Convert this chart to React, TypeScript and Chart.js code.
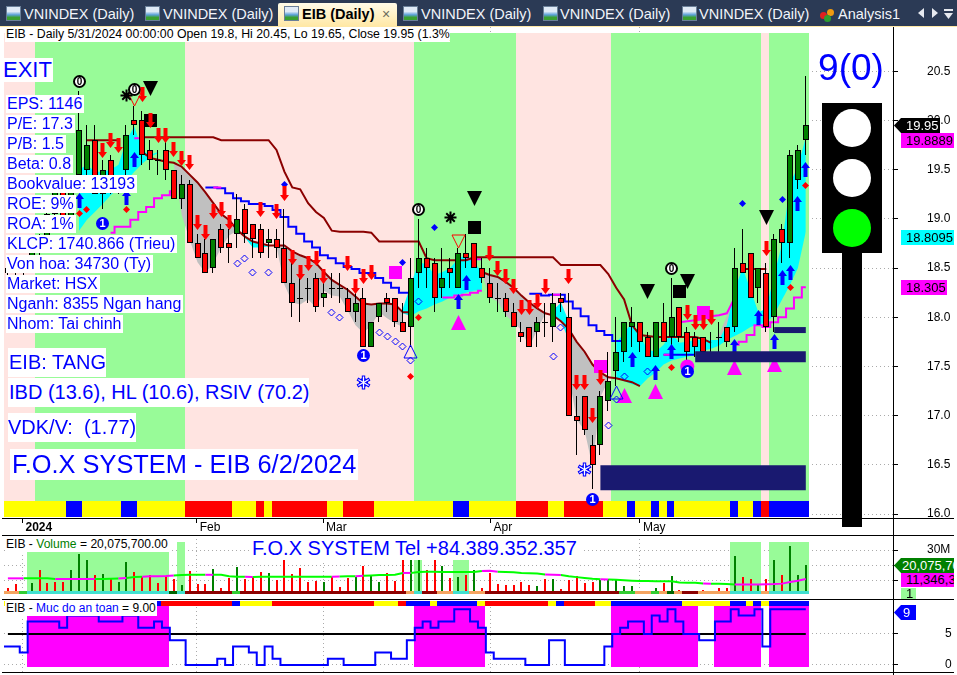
import React, { useEffect, useRef } from "react";
import { Chart, registerables } from "chart.js";

Chart.register(...registerables);

const N = 102;
const idx = Array.from({ length: N }, (_, i) => i);

const openP = [
  18.45,18.5,18.45,18.5,18.7,18.7,19.05,19.4,19.0,19.45,
  19.5,19.8,19.25,19.6,19.35,19.5,20.0,20.0,19.7,19.6,
  19.7,19.5,19.2,19.35,18.75,18.65,18.5,18.9,18.75,18.85,
  19.1,18.95,18.9,18.75,18.8,18.7,18.35,18.2,18.3,18.4,
  18.2,18.3,18.3,18.2,18.05,18.2,17.7,18.0,18.2,18.2,
  17.95,17.9,18.45,18.6,18.55,18.3,18.5,18.3,18.65,18.75,
  18.5,18.35,18.2,18.2,18.05,17.85,17.9,17.85,17.95,17.9,
  18.2,18.0,17.0,17.2,16.7,16.7,17.15,17.45,17.65,17.9,
  17.95,17.8,17.6,17.95,17.8,18.1,17.85,17.8,17.8,17.65,
  17.8,17.9,17.9,18.55,18.65,18.3,18.45,18.0,18.9,18.75,
  19.4,19.8,
];
const closeP = [
  18.5,18.45,18.5,18.7,18.65,19.05,19.4,19.0,19.35,19.9,
  19.75,19.25,19.5,19.3,19.3,19.85,19.95,19.65,19.6,19.6,
  19.5,19.2,19.35,18.75,18.6,18.45,18.8,18.7,18.7,19.0,
  18.85,18.8,18.65,18.8,18.7,18.35,18.15,18.2,18.3,18.1,
  18.25,18.3,18.3,18.05,18.15,17.7,17.95,18.15,18.15,17.95,
  17.85,18.4,18.6,18.5,18.2,18.4,18.45,18.65,18.6,18.5,
  18.4,18.2,18.2,18.05,17.9,17.8,17.7,17.95,17.95,18.15,
  18.15,17.0,16.95,16.85,16.5,17.2,17.35,17.65,17.95,17.95,
  17.75,17.6,17.95,17.75,18.0,17.8,17.65,17.7,17.65,17.65,
  17.8,17.75,18.5,18.45,18.2,18.5,17.9,18.8,18.75,19.65,
  19.7,19.95,
];
const highP = [
  18.6,18.6,18.55,18.75,18.85,19.15,19.45,19.45,19.4,20.3,
  19.95,19.95,19.6,19.65,19.4,19.95,20.15,20.1,19.8,19.7,
  19.8,19.5,19.45,19.4,18.85,18.8,18.8,18.95,18.9,19.25,
  19.15,18.95,18.95,18.9,18.9,19.1,18.6,18.4,18.4,18.45,
  18.4,18.45,18.45,18.3,18.25,18.3,17.95,18.15,18.25,18.2,
  18.15,18.6,19.0,18.7,18.6,18.7,18.6,18.7,18.85,18.75,
  18.6,18.5,18.35,18.25,18.15,17.95,17.9,18.0,18.15,18.25,
  18.25,18.25,17.2,17.2,16.8,17.25,17.65,18.0,17.95,18.1,
  17.95,17.85,17.95,18.15,18.4,18.1,17.9,17.85,17.8,17.85,
  17.95,17.9,18.7,18.9,18.65,18.5,18.55,18.85,18.95,19.7,
  19.75,20.45,
];
const lowP = [
  18.35,18.4,18.35,18.45,18.6,18.65,19.0,18.9,18.95,19.35,
  19.45,19.25,19.1,19.25,19.25,19.45,19.85,19.55,19.5,19.45,
  19.4,19.2,19.1,18.75,18.6,18.45,18.45,18.65,18.55,18.7,
  18.75,18.6,18.6,18.6,18.6,18.35,18.0,17.95,18.15,18.05,
  18.1,18.2,18.15,18.05,17.95,17.7,17.7,17.95,18.05,17.9,
  17.85,17.7,18.3,18.3,18.05,18.2,18.3,18.3,18.5,18.5,
  18.35,18.15,18.05,18.0,17.9,17.75,17.7,17.7,17.8,17.75,
  18.05,17.0,16.6,16.8,16.25,16.6,17.05,17.3,17.55,17.7,
  17.65,17.6,17.6,17.75,17.7,17.75,17.55,17.6,17.6,17.6,
  17.65,17.7,17.85,18.45,18.2,18.15,17.85,17.85,18.55,18.6,
  19.3,19.65,
];

const volumeM = [
  5.3,7.8,3.5,8.5,17.1,8.5,9.1,9.1,17.1,27.4,
  23.5,13.9,14.5,11.1,9.6,22,15.6,12.4,13.7,8.5,
  13.4,11.1,7.4,16.5,7.8,7.8,17.5,5.3,11.7,18.8,
  11.1,12.4,15.8,14.9,10.6,23.5,14.5,18.4,9.1,10.2,
  9.1,12.4,5.9,12.2,12.4,19.7,13.9,9.1,14.9,10,
  23.5,23.5,23.5,17.1,23.5,19.7,11.7,12.4,13.7,17.1,
  5.3,15.4,8,7.6,7.4,9.4,7.4,6.8,11.3,11.3,
  4.8,10.6,13.2,8.7,9.4,10.6,11.5,10.6,7,6.8,
  2,3.5,5.3,8.7,13.2,4.2,3,3,4.2,3,
  5.4,5.4,26.1,12.4,11.3,7.8,11.3,23.5,13.9,32.6,
  13.9,20.08,
];
const volumeDir = "RRGGRRRRGGGRGRGGRRRRRRGRRRGRRGRRRGRRRRRRGRRRGRGGRRRGGRRGRGRGRRRRRRRGRGRRRRRGGGGGGGGRGRRRRRRRGRRGRGRGGG";
const volumeAvg = [
  11.7,11.7,11.7,11.7,11.7,11.7,11.3,11.3,11.3,11.3,
  11.3,11.3,11.3,11.5,11.6,11.9,12.6,12.8,13,13,
  13.2,13.6,13.9,14,14,14,14,14,13,12.8,
  12.7,12.6,12.7,12.8,12.8,12.8,12.8,12.8,12.8,12.8,
  12.8,12.8,12.9,13,13,13.4,13.6,13.8,13.9,14,
  15.2,15.2,15.8,15.9,15.9,15.8,15.8,15.8,15.8,15.8,
  16.5,16.6,16,15.8,15.6,15.2,15,14.8,14.2,14,
  13.8,13,12.5,12,11.5,11.2,11,10.8,10.5,10.2,
  10,10,9.8,9.8,9.8,9,8.8,8.8,8.4,8.2,
  8.2,8,7.8,7.8,7.8,7.8,7.9,8,8.3,9.4,
  10.2,11.35,
];
const volumeAvgPink = [0,1,6,7,8,9,10,14,17,18,19,20,25,30,41,44,50,60,61,68,69,75,88,92,93,94,95,96,97,98,99,100,101];

const safety = [
  3,3,2,7,7,7,7,6,8,8,
  8,8,7,7,7,8,8,6,6,7,
  6,4,4,0,0,0,0,1,0,3,
  3,2,0,3,1,0,0,0,0,0,
  0,1,1,0,0,0,0,2,2,1,
  1,4,6,7,6,7,7,9,9,7,
  6,2,1,1,1,1,0,0,0,4,
  4,0,0,0,0,0,3,5,6,7,
  7,5,8,7,9,7,5,5,4,4,
  7,7,9,8,8,9,3,9,9,9,
  9,9,
];
const safetyMid = idx.map(() => 5);

type Run = [string, number];
const trendRuns: Run[] = [["P",4],["G",19],["P",29],["G",13],["P",12],["G",19],["P",1],["G",5]];
const priceStripRuns: Run[] = [["Y",8],["B",2],["Y",5],["B",2],["Y",6],["R",6],["Y",3],["R",1],["Y",1],["R",7],["Y",2],["R",4],["Y",10],["B",2],["Y",6],["R",4],["Y",2],["R",5],["Y",3],["B",1],["Y",2],["B",1],["Y",1],["B",1],["Y",7],["B",1],["Y",2],["B",1],["R",1],["B",5]];
const volBandRuns: Run[] = [["-",3],["L",18],["-",1],["L",1],["-",29],["L",1],["-",4],["L",2],["-",33],["L",4],["-",1],["L",5]];
const volStripRuns: Run[] = [["O",2],["A",1],["T",18],["D",1],["T",1],["M",6],["A",1],["M",21],["O",1],["T",1],["M",2],["O",2],["T",2],["O",2],["M",17],["A",2],["O",2],["A",1],["O",1],["D",1],["O",1],["M",2],["O",4],["T",4],["O",1],["T",5]];
const safetyBandRuns: Run[] = [["-",3],["K",18],["-",31],["K",9],["-",16],["K",11],["-",2],["K",6],["-",1],["K",5]];
const safetyStripRuns: Run[] = [["Y",19],["B",1],["R",9],["B",1],["Y",4],["R",13],["Y",3],["R",1],["B",3],["Y",1],["B",5],["Y",1],["R",8],["Y",1],["B",1],["R",4],["Y",2],["B",9],["Y",6],["B",2],["Y",1],["B",1],["Y",1],["B",5]];

type Span = [number, number[]];
const rep = (v: number, n: number) => Array(n).fill(v);
const slowLine: Span[] = [[10,rep(19.8,5)],[17,rep(19.83,10)],[27,rep(19.8,7)],[34,[19.7,19.48,19.32,19.3,19.16,19.07,19.01,18.88,18.87,18.87,18.87,18.87,18.86]],[47,rep(18.77,6)],[53,[18.6,18.58,18.58,18.58,18.58,18.58]],[59,rep(18.61,11)],[70,rep(18.53,6)],[76,[18.44,18.3,18.18,17.92,17.82,17.81,17.8,17.8,17.8,17.8,17.8,17.8,17.78,17.74]],[93,rep(18.49,4)]];
const fastLine: Span[] = [[17,[19.68,19.62,19.6,19.58,19.57,19.53,19.45,19.37,19.27,19.16,19.05,18.99,18.89,18.82,18.77,18.75,18.73,18.73,18.73,18.67,18.63,18.6,18.55,18.46,18.38,18.33,18.28,18.21,18.14,18.13,18.14,18.14,18.13,18.05,18.05]],[60,[18.46,18.43,18.41,18.36,18.3,18.22,18.15,18.09,18.04,18.02,17.96,17.88,17.75,17.65,17.52,17.44,17.39,17.38,17.36,17.34,17.3]]];
const blueStop: Span[] = [[25,[19.32,19.32,19.31,19.26,19.21,19.18,19.15,19.15,19.13,19.09,19.02,18.92,18.85,18.77,18.71,18.63,18.6,18.55,18.51,18.49,18.45,18.45,18.4,18.35,18.3,18.25,18.25]],[66,[18.24,18.24,18.22,18.23,18.23,18.16,18.09,18.01,17.92,17.86,17.82,17.76,17.76]],[83,rep(17.62,5)]];
const pinkLow: Span[] = [[13,[18.86,18.92,18.92,18.99,19.07,19.12,19.21,19.24,19.28]],[55,[18.2,18.2,18.22,18.23,18.25,18.27]],[83,[17.62,17.62]],[92,[17.72,17.75,17.82,17.92,17.9,17.95,18,18.09,18.2,18.305]]];
const pinkHigh: Span[] = [[16,[19.82,19.82]],[26,[19.32,19.32]],[58,[18.59,18.59,18.59]],[69,[18.23,18.23]],[85,[17.95,17.96,17.97,17.98,18.01,18.02,18.04,18.2]]];
const cyanUpper: Span[] = [[9,[19.5,19.55,19.48,19.48,19.5,19.55,19.8,19.94,19.7,19.65,19.68]],[30,[18.82,18.77,18.75,18.73]],[50,[18.09,18.33,18.56,18.54,18.43,18.46,18.5,18.6,18.63,18.56,18.46]],[69,[18.07,18.15,17.96]],[77,[17.74,17.84,17.95,17.81,17.67,17.65,17.72,17.84,17.74,17.75,17.77,17.77,17.77,17.77,17.92,18.28,18.5,18.28,18.05,18.09,18.43,18.75,19.36,19.53,19.83]]];
const cyanLower: Span[] = [[9,[18.88,18.99,19.07,19.15,19.24,19.31,19.39,19.48,19.56,19.63,19.67]],[30,[18.81,18.71,18.71,18.72]],[50,[18.04,18.01,18.06,18.09,18.13,18.16,18.2,18.23,18.25,18.27,18.28]],[69,[18.02,17.96,17.77]],[77,[17.38,17.35,17.32,17.3,17.38,17.44,17.52,17.56,17.58,17.6,17.62,17.66,17.68,17.71,17.77,17.81,17.85,17.9,17.93,17.94,18.03,18.18,18.33,18.5,18.87]]];
const grayUpper: Span[] = [[21,[19.57,19.53,19.45,19.37,19.27,19.16,19.05,18.99,18.89]],[34,[18.73,18.73,18.67,18.63,18.6,18.55,18.46,18.38,18.33,18.28,18.21,18.14,18.13,18.14,18.14,18.13,18.05]],[60,[18.46,18.43,18.41,18.36,18.3,18.22,18.15,18.09,18.04]],[71,[17.88,17.75,17.65,17.52,17.44,17.39]],[90,[17.82,18.01,18.18]]];
const grayLower: Span[] = [[21,[19.55,19.04,18.79,18.56,18.45,18.55,18.71,18.83,18.88]],[34,[18.72,18.33,18.15,18.13,18.18,18.1,18.27,18.22,18.21,18.07,17.92,17.84,17.92,18.05,17.99,17.94,17.9]],[60,[18.44,18.2,18.16,18.02,17.95,17.87,17.7,17.87,18.03]],[71,[17.41,16.96,16.85,16.48,17.19,17.36]],[90,[17.77,17.92,18.17]]];
const navyZones = [[75,101,16.37],[87,101,17.6],[97,101,17.87]];

type Mark = [number, number];
const redArrows: Mark[] = [[12,19.69],[13,19.8],[14,19.75],[17,20.26],[18,20],[19,19.85],[20,19.85],[21,19.7],[22,19.61],[23,19.57],[24,18.96],[25,18.86],[26,19.07],[27,19.1],[28,18.96],[32,19.1],[34,19.07],[35,19.26],[36,18.61],[37,18.46],[38,18.55],[39,18.6],[40,18.41],[43,18.55],[44,18.31],[45,18.41],[46,18.46],[61,18.65],[62,18.5],[63,18.41],[64,18.31],[65,18.1],[66,18.1],[67,18.16],[68,18.31],[71,18.41],[72,17.34],[73,17.34],[74,17],[75,17.39],[86,18.05],[87,17.95],[88,17.95],[89,18],[96,18.7]];
const blueArrows: Mark[] = [[9,19.19],[15,19.22],[16,19.6],[57,18.16],[58,18.35],[79,17.57],[82,17.44],[84,17.65],[92,17.7],[95,18],[97,17.75],[98,18.4],[99,18.45],[100,19.16],[101,19.5]];
const blueDots: Mark[] = [[35,19.35],[50,18.56],[54,18.91],[93,19.16],[98,19.2]];
const redDots: Mark[] = [[9,19.05],[10,19.1],[15,19.1],[51,17.4],[52,18],[84,17.49],[99,18.3],[101,19.34]];
const hollowDots: Mark[] = [[29,18.55],[30,18.6],[31,18.45],[33,18.45],[41,18.05],[42,18],[47,17.85],[48,17.8],[49,17.75],[50,17.7],[51,17.56],[52,18.16],[69,17.6],[70,17.9],[76,16.9],[77,17.16],[78,17.4],[81,17.45]];
const pinkTriangles: Mark[] = [[57,17.95],[78,17.2],[82,17.25],[92,17.49],[97,17.52]];
const blueTriangles: Mark[] = [[51,17.65],[77,17.24]];
const redOpenTriangles: Mark[] = [[16,20.21],[57,18.77]];
const blackTriangles: Mark[] = [[18,20.32],[59,19.21],[81,18.26],[86,18.36],[96,19.01]];
const blackSquares: Mark[] = [[18,20],[59,18.91],[85,18.26]];
const pinkSquares: Mark[] = [[49,18.46],[75,17.5],[88,18.05]];
const asterisks: Mark[] = [[15,20.25],[56,19.01]];
const zeroBadges: Mark[] = [[9,20.4],[16,20.31],[52,19.1],[84,18.5]];
const oneBadges: Mark[] = [[12,18.95],[45,17.61],[74,16.15],[86,17.45]];
const snowflakes: Mark[] = [[45,17.34],[73,16.45]];
const pinkDiscs: Mark[] = [[86,17.5]];

const priceTicks = [16,16.5,17,17.5,18,18.5,19,19.5,20,20.5];
const volumeTicks = [10,20,30];
const safetyTicks = [0,5];
const monthTickPos = [1.85,23.9,39.9,61.1,80];
const monthLabels = ["2024","Feb","Mar","Apr","May"];

const infoLines = ["EPS: 1146","P/E: 17.3","P/B: 1.5","Beta: 0.8","Bookvalue: 13193","ROE: 9%","ROA: 1%","KLCP: 1740.866 (Trieu)","Von hoa: 34730 (Ty)","Market: HSX","Nganh: 8355 Ngan hang","Nhom: Tai chinh"];
const tabTitles = ["VNINDEX (Daily)","VNINDEX (Daily)","EIB (Daily)","VNINDEX (Daily)","VNINDEX (Daily)","VNINDEX (Daily)","Analysis1"];

const STRIP: Record<string,string> = { Y:"#ffff00", B:"#0000ff", R:"#ff0000", P:"#ffe4e1", G:"#98fb98", L:"#98fb98", O:"#f4a460", A:"#32cd32", T:"#40e0d0", D:"#006400", M:"#8b0000", K:"#ff00ff" };
const expand = (runs: Run[]) => runs.flatMap(([c,n]) => Array(n).fill(c) as string[]);
const fromSpans = (spans: Span[]) => {
  const out: {x:number;y:number|null}[] = idx.map((x) => ({ x, y: null }));
  spans.forEach(([s, vals]) => vals.forEach((v, k) => { out[s + k].y = v; }));
  return out;
};
const FONT = '"Liberation Sans", Arial, sans-serif';
const X_MIN = (4 - 7.9) / 7.9;
const X_MAX = (893 - 7.9) / 7.9;

function sprite(w: number, h: number, draw: (g: CanvasRenderingContext2D) => void) {
  const c = document.createElement("canvas");
  c.width = w; c.height = h;
  draw(c.getContext("2d")!);
  return c;
}
function poly(g: CanvasRenderingContext2D, pts: number[][]) {
  g.beginPath();
  pts.forEach(([x, y], i) => (i ? g.lineTo(x, y) : g.moveTo(x, y)));
  g.closePath();
}
const arrow = (color: string, up: boolean) => sprite(9, 15, (g) => {
  const p = [[2.5,0],[6.5,0],[6.5,9],[9,9],[4.5,15],[0,9],[2.5,9]].map(([x,y]) => [x, up ? 15 - y : y]);
  poly(g, p); g.fillStyle = color; g.fill();
});
const triangleSprite = (size: number, up: boolean, fill: string | null, stroke: string | null) => sprite(size, size, (g) => {
  const p = up ? [[size/2,1],[size-1,size-1],[1,size-1]] : [[1,1],[size-1,1],[size/2,size-1]];
  poly(g, p);
  if (fill) { g.fillStyle = fill; g.fill(); }
  if (stroke) { g.strokeStyle = stroke; g.lineWidth = 1; g.stroke(); }
});
const squareSprite = (size: number, color: string) => sprite(size, size, (g) => { g.fillStyle = color; g.fillRect(0,0,size,size); });
const badge = (text: string, ring: string, fill: string, ink: string, size: number) => sprite(13, 13, (g) => {
  g.beginPath(); g.arc(6.5,6.5,5.5,0,Math.PI*2);
  g.fillStyle = fill; g.fill(); g.lineWidth = 2; g.strokeStyle = ring; g.stroke();
  g.fillStyle = ink; g.font = `bold ${size}px ${FONT}`; g.textAlign = "center"; g.textBaseline = "middle";
  g.fillText(text, 6.5, 7);
});
const snowSprite = () => sprite(15, 15, (g) => {
  const arms = (color: string, width: number, r: number) => {
    g.strokeStyle = color; g.lineWidth = width;
    for (let a = 0; a < 3; a++) {
      const t = (a * Math.PI) / 3 + Math.PI / 2;
      g.beginPath(); g.moveTo(7.5 - Math.cos(t)*r, 7.5 - Math.sin(t)*r); g.lineTo(7.5 + Math.cos(t)*r, 7.5 + Math.sin(t)*r); g.stroke();
    }
  };
  arms("#0000ff", 3.4, 7);
  g.fillStyle = "#0000ff"; g.beginPath(); g.arc(7.5,7.5,4.5,0,Math.PI*2); g.fill();
  arms("#ffffff", 1.3, 6);
});

const snapPlugin = {
  id: "snap",
  afterDatasetsUpdate(chart: any) {
    chart.data.datasets.forEach((ds: any, di: number) => {
      const meta = chart.getDatasetMeta(di);
      meta.data.forEach((el: any) => {
        if (ds.snap === "point") {
          el.x = Math.floor(el.x) + 0.5; el.y = Math.floor(el.y) + 0.5;
        } else if (ds.snap === "band") {
          const l = Math.round(el.x - 5), r = Math.round(el.x + 3);
          el.x = (l + r) / 2; el.width = r - l;
          el.y = Math.round(el.y); el.base = Math.round(el.base);
        } else if (ds.snap === "body" || ds.snap === "wick" || ds.snap === "vol") {
          const X = Math.round(el.x);
          if (ds.snap === "body") { el.x = X; el.width = 6; }
          if (ds.snap === "wick") { el.x = X - 0.5; el.width = 1; }
          if (ds.snap === "vol") { el.x = X; el.width = 2; }
          let top = Math.round(Math.min(el.y, el.base));
          let bot = Math.round(Math.max(el.y, el.base));
          if (bot - top < 1) bot = top + 1;
          el.y = top; el.base = bot; el.height = bot - top;
        }
      });
    });
  },
};

const barDefaults = { type: "bar" as const, inflateAmount: 0, borderSkipped: false, grouped: false, barThickness: 8 };
const colorBars = (runs: Run[], lo: number, hi: number, order: number) => {
  const codes = expand(runs);
  const keep = idx.filter((i) => codes[i] !== "-");
  return {
    ...barDefaults, order, snap: "band",
    data: keep.map((i) => ({ x: i, y: [lo, hi] })),
    backgroundColor: keep.map((i) => STRIP[codes[i]]),
    borderWidth: 0,
  };
};
const lineSet = (data: any, color: string, order: number, extra: any = {}) => ({
  type: "line" as const, data, borderColor: color, backgroundColor: color, borderWidth: 2,
  pointRadius: 0, tension: 0, spanGaps: false, fill: false, order, ...extra,
});
const fillPair = (upper: Span[], lower: Span[], color: string, order: number) => [
  lineSet(fromSpans(upper), "transparent", order, { borderWidth: 0, fill: { target: "+1" }, backgroundColor: color }),
  lineSet(fromSpans(lower), "transparent", order, { borderWidth: 0 }),
];
const marks = (pairs: Mark[], style: any, order: number, extra: any = {}) => ({
  type: "scatter" as const, data: pairs.map(([x, y]) => ({ x, y })), pointStyle: style,
  pointRadius: 4, pointHoverRadius: 4, pointBorderWidth: 0, pointBackgroundColor: "transparent",
  snap: "point", order, ...extra,
});

const zeroPadding = (s: any) => { s.paddingTop = 0; s.paddingBottom = 0; s.paddingLeft = 0; s.paddingRight = 0; };
const xAxis = (visible: boolean) => ({
  type: "linear" as const, min: X_MIN, max: X_MAX, offset: false,
  afterBuildTicks: (s: any) => { s.ticks = monthTickPos.map((value) => ({ value })); },
  afterFit: (s: any) => { zeroPadding(s); s.height = visible ? 17 : 0; },
  grid: { color: "#aaaaaa", offset: false, drawTicks: visible, tickLength: 5, tickColor: "#000000", tickBorderDash: [] },
  border: { display: false, dash: [1, 3] },
  ticks: visible ? {
    autoSkip: false, maxRotation: 0, minRotation: 0, align: "start", labelOffset: 3, padding: -3, color: "#000000",
    font: (c: any) => ({ family: FONT, size: 12, weight: c.index === 0 ? "bold" : "normal" }),
    callback: (_v: any, i: number) => monthLabels[i],
  } : { display: false },
});
const yAxis = (min: number, max: number, tickList: number[], fmt: (v: number) => string, pad: number) => ({
  type: "linear" as const, position: "right" as const, min, max, offset: false,
  afterBuildTicks: (s: any) => { s.ticks = tickList.map((value) => ({ value })); },
  afterFit: (s: any) => { zeroPadding(s); s.width = 64; },
  grid: { color: "#aaaaaa", tickLength: 5, tickColor: "#000000", tickBorderDash: [] },
  border: { display: true, color: "#000000", dash: [1, 3] },
  ticks: { color: "#000000", padding: pad, font: { family: FONT, size: 12 }, callback: (v: number) => fmt(v) },
});
const baseOptions = (padding: any, scales: any) => ({
  responsive: false, animation: false as const, devicePixelRatio: 1,
  layout: { padding, autoPadding: false },
  plugins: { legend: { display: false }, tooltip: { enabled: false } },
  events: [] as any[],
  scales,
});

function priceChart(canvas: HTMLCanvasElement) {
  const trend = expand(trendRuns);
  const strip = expand(priceStripRuns);
  const candleColor = idx.map((i) => (closeP[i] > openP[i] ? "#008000" : closeP[i] < openP[i] ? "#ff0000" : "#000000"));
  const datasets: any[] = [
    { ...barDefaults, order: 100, snap: "band", data: idx.map((i) => ({ x: i, y: [16.13, 20.889] })), backgroundColor: trend.map((c) => STRIP[c]), borderWidth: 0 },
    { ...barDefaults, order: 99, snap: "band", data: idx.map((i) => ({ x: i, y: [15.97, 16.13] })), backgroundColor: strip.map((c) => STRIP[c]), borderWidth: 0 },
    ...fillPair(grayUpper, grayLower, "#c0c0c0", 92),
    ...fillPair(cyanUpper, cyanLower, "#00ffff", 91),
    lineSet(fromSpans(blueStop), "#0000ff", 85, { stepped: "middle" }),
    lineSet(fromSpans(pinkLow), "#ff00ff", 84, { stepped: "middle" }),
    lineSet(fromSpans(pinkHigh), "#ff00ff", 84),
    lineSet(fromSpans(slowLine), "#8b0000", 83),
    lineSet(fromSpans(fastLine), "#8b0000", 83),
    { ...barDefaults, order: 70, snap: "wick", barThickness: 1, data: idx.map((i) => ({ x: i, y: [lowP[i], highP[i]] })), backgroundColor: "#000000", borderWidth: 0 },
    { ...barDefaults, order: 69, snap: "body", barThickness: 6, data: idx.map((i) => ({ x: i, y: [openP[i], closeP[i]] })), backgroundColor: candleColor, borderColor: "#000000", borderWidth: 1 },
    marks(pinkDiscs, "circle", 62, { pointRadius: 7, pointBackgroundColor: "#ff00ff", snap: "" }),
    marks(pinkTriangles, triangleSprite(17, true, "#ff00ff", null), 61),
    marks(pinkSquares, squareSprite(13, "#ff00ff"), 60),
    marks(blackSquares, squareSprite(13, "#000000"), 60),
    marks(blackTriangles, triangleSprite(17, false, "#000000", null), 59),
    marks(blueTriangles, triangleSprite(15, true, null, "#0000ff"), 58),
    marks(redOpenTriangles, triangleSprite(15, false, null, "#ff0000"), 58),
    marks(hollowDots, "rectRot", 57, { pointRadius: 3.5, pointBorderWidth: 1, pointBorderColor: "#0000ff" }),
    marks(redDots, "rectRot", 56, { pointBackgroundColor: "#ff0000", pointRadius: 3.5 }),
    marks(blueDots, "rectRot", 56, { pointBackgroundColor: "#0000ff", pointRadius: 3.5 }),
    marks(asterisks, "star", 55, { pointRadius: 6, pointBorderWidth: 2, pointBorderColor: "#000000" }),
    marks(snowflakes, snowSprite(), 55),
    marks(zeroBadges, badge("0", "#000000", "#ffffff", "#000000", 10), 54),
    marks(oneBadges, badge("1", "#0000ff", "#0000ff", "#ffffff", 11), 54),
    marks(blueArrows, arrow("#0000ff", true), 53),
    marks(redArrows, arrow("#ff0000", false), 52),
    ...navyZones.map(([a, b, level], k) => lineSet([{ x: a, y: level }, { x: b, y: level }], "#191970", 10, { borderWidth: [25, 11, 6][k], borderCapStyle: "butt" })),
  ];
  return new Chart(canvas, {
    type: "scatter",
    data: { datasets },
    options: baseOptions({ left: 4 }, {
      x: xAxis(true),
      y: yAxis(15.96, 20.95, priceTicks, (v) => v.toFixed(1), 29),
    }) as any,
    plugins: [snapPlugin],
  } as any);
}

function volumeChart(canvas: HTMLCanvasElement) {
  const pink = new Set(volumeAvgPink);
  const datasets: any[] = [
    colorBars(volBandRuns, 0, 35.2, 100),
    { ...barDefaults, order: 60, snap: "vol", barThickness: 2, data: idx.map((i) => ({ x: i, y: [0, volumeM[i]] })), backgroundColor: idx.map((i) => (volumeDir[i] === "G" ? "#008000" : "#ff0000")), borderWidth: 0 },
    lineSet(idx.map((x) => ({ x, y: volumeAvg[x] })), "#00ff00", 50, {
      segment: { borderColor: (c: any) => (pink.has(c.p0DataIndex) ? "#ff00ff" : "#00ff00") },
    }),
    colorBars(volStripRuns, 0, 3.55, 40),
  ];
  return new Chart(canvas, {
    type: "scatter",
    data: { datasets },
    options: baseOptions({ left: 4, bottom: 5 }, {
      x: xAxis(false),
      y: yAxis(1.6, 39.7, volumeTicks, (v) => (v === 30 ? "30M" : ""), 29),
    }) as any,
    plugins: [snapPlugin],
  } as any);
}

function safetyChart(canvas: HTMLCanvasElement) {
  const datasets: any[] = [
    colorBars(safetyBandRuns, -0.32, 9.56, 100),
    colorBars(safetyStripRuns, 9.56, 10.32, 99),
    lineSet(idx.map((x) => ({ x, y: safetyMid[x] })), "#000000", 50),
    lineSet([{ x: X_MIN, y: safety[0] }, ...idx.map((x) => ({ x, y: safety[x] }))], "#0000ff", 40, { stepped: "middle" }),
  ];
  return new Chart(canvas, {
    type: "scatter",
    data: { datasets },
    options: baseOptions({ left: 4 }, {
      x: xAxis(false),
      y: yAxis(-1.13, 10.645, safetyTicks, (v) => String(v), 47),
    }) as any,
    plugins: [snapPlugin],
  } as any);
}

const abs = (left: number, top: number, width: number, height: number, extra: React.CSSProperties = {}): React.CSSProperties => ({
  position: "absolute", left, top, width, height, ...extra,
});
const Box = ({ x, y, w, h, size, color = "#0000ff", pad = 1, children }: any) => (
  <div style={abs(x, y, w, h, { background: "#ffffff", color, fontSize: size, lineHeight: `${h}px`, paddingLeft: pad, boxSizing: "border-box", whiteSpace: "pre", overflow: "hidden" })}>{children}</div>
);
const Tag = ({ x, y, w, h, bg, color, point, pad, size = 13, children }: any) => (
  <div style={abs(x, y, w, h, {
    background: bg, color, fontSize: size, lineHeight: `${h}px`, whiteSpace: "pre", overflow: "hidden",
    paddingLeft: pad ?? (point ? 8 : 5), boxSizing: "border-box",
    clipPath: point ? `polygon(0 50%, 7px 0, 100% 0, 100% 100%, 7px 100%)` : undefined,
  })}>{children}</div>
);
const TabIcon = ({ x, analysis }: any) => analysis ? (
  <div style={abs(x, 8, 15, 14)}>
    <div style={abs(0, 4, 7, 7, { borderRadius: 4, background: "#e02020" })} />
    <div style={abs(7, 1, 7, 7, { borderRadius: 4, background: "#f09a10" })} />
    <div style={abs(4, 7, 7, 7, { borderRadius: 4, background: "#2e9e2e" })} />
  </div>
) : (
  <div style={abs(x, 6, 15, 15, { background: "linear-gradient(#dfeaf6 35%, #5aa0d8 60%, #3aa030 80%)", border: "1px solid #6a7f98", boxSizing: "border-box" })} />
);

export default function App() {
  const a = useRef<HTMLCanvasElement>(null);
  const b = useRef<HTMLCanvasElement>(null);
  const c = useRef<HTMLCanvasElement>(null);
  useEffect(() => {
    Chart.defaults.font.family = FONT;
    const charts = [priceChart(a.current!), volumeChart(b.current!), safetyChart(c.current!)];
    return () => charts.forEach((ch) => ch.destroy());
  }, []);

  const tabX = [24, 163, 0, 421, 560, 699, 838];
  const iconX = [6, 145, 0, 403, 543, 682, 820];
  return (
    <div style={{ position: "fixed", left: 0, top: 0, width: 957, height: 675, overflow: "hidden", background: "#ffffff", fontFamily: FONT }}>
      <canvas ref={a} width={957} height={508} style={abs(0, 27, 957, 508, { display: "block" })} />
      <canvas ref={b} width={957} height={64} style={abs(0, 535, 957, 64, { display: "block" })} />
      <canvas ref={c} width={957} height={73} style={abs(0, 599, 957, 73, { display: "block" })} />

      {[518, 535, 599, 672].map((y) => <div key={y} style={abs(2, y, 952, 1, { background: "#000000" })} />)}
      <div style={abs(893, 27, 1, 648, { background: "#000000" })} />
      <div style={abs(954, 27, 3, 648, { background: "#ffffff" })} />

      {/* tab strip */}
      <div style={abs(0, 0, 957, 26, { background: "#2b3a55" })} />
      <div style={abs(0, 26, 957, 1, { background: "#ffe8a6" })} />
      <div style={abs(278, 3, 119, 23, { background: "linear-gradient(#fffbe8, #ffe8a6)", borderRadius: "2px 2px 0 0" })} />
      {tabTitles.map((t, i) => i === 2 ? (
        <div key={i}>
          <TabIcon x={284} />
          <div style={abs(302, 3, 80, 23, { fontSize: 14.5, fontWeight: "bold", lineHeight: "23px", color: "#000000", whiteSpace: "pre" })}>{t}</div>
          <div style={abs(382, 4, 12, 20, { fontSize: 14, lineHeight: "20px", color: "#6b6b5c" })}>×</div>
        </div>
      ) : (
        <div key={i}>
          <TabIcon x={iconX[i]} analysis={i === 6} />
          <div style={abs(tabX[i], 3, 112, 23, { fontSize: 14.5, lineHeight: "23px", color: "#f2f5fa", whiteSpace: "pre" })}>{t}</div>
        </div>
      ))}
      <div style={abs(918, 8, 6, 10, { background: "#e6e9ef", clipPath: "polygon(100% 0, 100% 100%, 0 50%)" })} />
      <div style={abs(932, 8, 6, 10, { background: "#e6e9ef", clipPath: "polygon(0 0, 100% 50%, 0 100%)" })} />
      <div style={abs(944, 9, 9, 2, { background: "#e6e9ef" })} />
      <div style={abs(944, 13, 9, 6, { background: "#e6e9ef", clipPath: "polygon(0 0, 100% 0, 50% 100%)" })} />

      {/* pane captions */}
      <Box x={5} y={27} w={445} h={15} size={12.3} color="#000000">EIB - Daily 5/31/2024 00:00:00 Open 19.8, Hi 20.45, Lo 19.65, Close 19.95 (1.3%)</Box>
      <Box x={3} y={58} w={50} h={24} size={22} pad={0}>EXIT</Box>
      {infoLines.map((t, i) => (
        <div key={t} style={abs(6, 95 + i * 20, "auto" as any, 18, { background: "#ffffff", color: "#0000ff", fontSize: 16, lineHeight: "18px", padding: "0 2px 0 1px", whiteSpace: "pre" })}>{t}</div>
      ))}
      <Box x={8} y={348} w={98} h={29} size={20}>EIB: TANG</Box>
      <Box x={8} y={378} w={301} h={29} size={20}>IBD (13.6), HL (10.6), RSIV (70.2)</Box>
      <Box x={8} y={413} w={128} h={29} size={20} pad={0}>VDK/V:  (1.77)</Box>
      <Box x={10} y={449} w={348} h={31} size={25.4} pad={2}>F.O.X SYSTEM - EIB 6/2/2024</Box>

      <div style={abs(5, 537, 164, 15, { background: "#ffffff", color: "#000000", fontSize: 12.1, lineHeight: "15px", paddingLeft: 1, whiteSpace: "pre" })}>
        EIB - <span style={{ color: "#008000" }}>Volume</span> = 20,075,700.00
      </div>
      <Box x={251} y={537} w={333} h={23} size={20}>F.O.X SYSTEM Tel +84.389.352.357</Box>
      <div style={abs(5, 600, 151, 16, { background: "#ffffff", color: "#000000", fontSize: 12, lineHeight: "16px", paddingLeft: 1, whiteSpace: "pre" })}>
        EIB - <span style={{ color: "#0000ff" }}>Muc do an toan</span> = 9.00
      </div>

      {/* traffic light */}
      <div style={abs(812, 46, 78, 44, { color: "#0000ff", fontSize: 37, lineHeight: "44px", textAlign: "center" })}>9(0)</div>
      <div style={abs(842, 253, 20, 274, { background: "#000000" })} />
      <div style={abs(822, 103, 60, 150, { background: "#000000" })} />
      {["#ffffff", "#ffffff", "#00ff00"].map((col, i) => (
        <div key={i} style={abs(833, 109 + i * 50, 38, 38, { borderRadius: "50%", background: col })} />
      ))}

      {/* last value tags */}
      <Tag x={894} y={118} w={46} h={15} bg="#000000" color="#ffffff" point pad={12}>19.95</Tag>
      <Tag x={901} y={133} w={53} h={15} bg="#ff00ff" color="#000000">19.8889</Tag>
      <Tag x={901} y={230} w={53} h={15} bg="#00ffff" color="#000000">18.8095</Tag>
      <Tag x={901} y={280} w={46} h={15} bg="#ff00ff" color="#000000">18.305</Tag>
      <Tag x={894} y={558} w={60} h={15} bg="#008000" color="#ffffff" point>20,075,700</Tag>
      <Tag x={901} y={573} w={53} h={14} bg="#ff00ff" color="#000000" size={13}>11,346,360</Tag>
      <Tag x={901} y={588} w={15} h={11} bg="#98fb98" color="#000000" size={13}>1</Tag>
      <Tag x={894} y={605} w={22} h={15} bg="#0000ff" color="#ffffff" point pad={9}>9</Tag>
    </div>
  );
}
